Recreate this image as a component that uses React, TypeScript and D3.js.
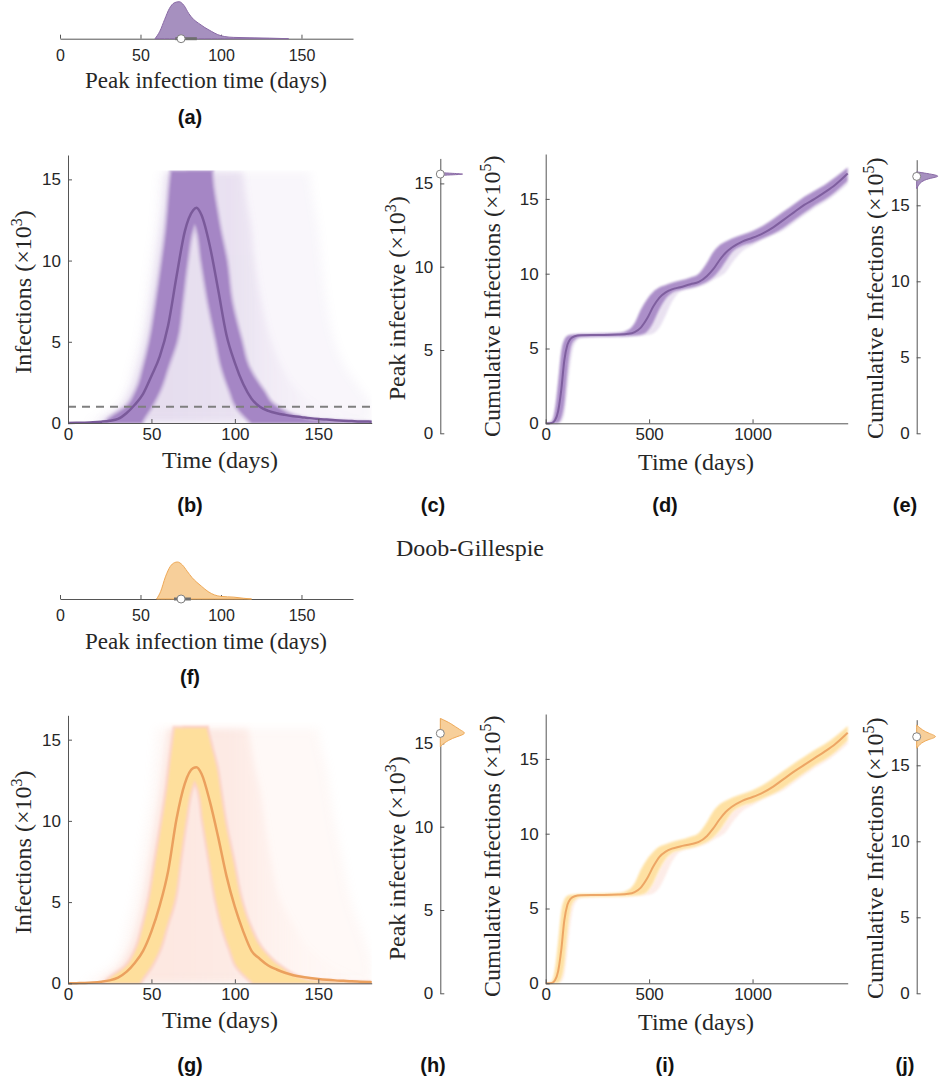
import * as d3 from "d3";
import React, { useEffect, useRef } from "react";

const W = 941, H = 1086;

// ---------- peak infection time densities (a), (f)
const peakDaysA = [59, 62, 65, 68, 71, 74, 77, 80, 83, 86, 90, 94, 98, 102, 108, 118, 130, 142];
const peakDensA = [0, 0.2, 0.52, 0.82, 0.97, 1.0, 0.9, 0.68, 0.52, 0.42, 0.3, 0.2, 0.11, 0.06, 0.035, 0.025, 0.015, 0];
const peakBoxA = [71.6, 75.2, 85]; // q1, median, q3
const peakDaysF = [60, 62.5, 65.5, 68.5, 71, 73, 76, 79, 82, 85, 88, 92, 96, 100, 108, 114, 119];
const peakDensF = [0, 0.2, 0.6, 0.88, 0.98, 1.0, 0.92, 0.75, 0.58, 0.45, 0.34, 0.2, 0.11, 0.07, 0.05, 0.02, 0];
const peakBoxF = [70.8, 75.2, 81.3];
const timeTicks = [0, 50, 100, 150];

// ---------- infections over time (b), (g)  (x10^3)
const infDays = [0, 5, 10, 15, 20, 25, 30, 35, 40, 45, 50, 55, 60, 65, 70, 75, 77, 80, 85, 90, 95, 100, 105, 110, 115, 120, 125, 130, 135, 140, 145, 150, 155, 160, 165, 170, 175, 180, 182];
const medianInfB = [0, 0.01, 0.02, 0.04, 0.08, 0.14, 0.25, 0.6, 1.12, 1.8, 2.9, 4.1, 6.0, 9.0, 11.8, 13.1, 13.25, 12.8, 10.9, 8.2, 5.4, 3.7, 2.4, 1.5, 1.0, 0.75, 0.6, 0.5, 0.42, 0.36, 0.3, 0.25, 0.21, 0.17, 0.14, 0.12, 0.1, 0.09, 0.08];
const medianInfG = [0, 0.01, 0.02, 0.05, 0.1, 0.18, 0.35, 0.7, 1.25, 2.0, 3.2, 4.8, 6.9, 10.1, 12.3, 13.25, 13.3, 12.9, 11.2, 9.0, 6.6, 4.7, 3.2, 2.0, 1.5, 1.1, 0.85, 0.65, 0.5, 0.4, 0.33, 0.27, 0.22, 0.18, 0.15, 0.12, 0.1, 0.08, 0.07];
const infTicks = [0, 5, 10, 15];
const thresholdB = 1;

// trajectory envelopes, read as time ranges at each infection level
const levelsB = [0, 0.2, 1, 2, 3.5, 5, 7.5, 10, 12, 13.2, 14.5, 15.5];
const riseLoB = [22, 24, 35, 41, 45.5, 49, 53, 56.5, 59, 60, 61, 62];
const riseHiB = [44, 45, 50, 55, 60, 65, 68.5, 71.5, 75, 80, 84, 86];
const fallLoB = [110, 108, 101, 97, 92, 89, 84, 80, 77, 72, 72, 72];
const fallHiB = [182, 145, 125, 117, 108, 104, 98, 95, 91, 89, 87, 86];
const midLoB = [18, 20, 31, 37, 42, 45.5, 49.5, 53, 55.5, 57, 58, 59];
const midHiB = [182, 178, 152, 138, 128, 122, 116, 112, 110, 108, 106, 105];
const faintLoB = [10, 14, 28, 34, 38, 42, 46, 49, 52, 53, 54, 55];
const faintHiB = [182, 182, 182, 176, 166, 160, 155, 152, 150, 148, 146, 145];

const levelsG = [0, 0.2, 1, 2, 3.5, 5, 7.5, 10, 12, 13.3, 14.5, 15.7];
const riseLoG = [22, 24, 34.5, 40.5, 45, 48.5, 52.5, 56.5, 59.5, 61, 62.5, 64];
const riseHiG = [43, 44, 49.5, 54.5, 59, 63.5, 67, 70.5, 74, 79, 82, 83];
const fallLoG = [111, 109, 101.5, 97.5, 92.5, 89, 85, 81, 78, 72, 70, 70];
const fallHiG = [182, 143, 127.5, 117, 109, 104, 99, 94, 91, 89, 86, 83];
const midLoG = [17, 20, 30, 36, 41, 44.5, 48.5, 52.5, 55.5, 57, 58.5, 60];
const midHiG = [182, 180, 160, 146, 136, 128, 122, 118, 115, 112, 110, 108];
const faintLoG = [8, 12, 25, 31, 35, 39, 43, 47, 50, 51, 52, 53];
const faintHiG = [182, 182, 182, 180, 175, 170, 165, 160, 157, 155, 152, 150];

// ---------- peak infective (c), (h)  (x10^3)
const peakInfLevelsC = [15.48, 15.52, 15.56, 15.6, 15.65];
const peakInfDensC = [0, 0.5, 1, 0.45, 0];
const peakInfMedC = 15.56;
const peakInfLevelsH = [16.5, 16.2, 15.8, 15.6, 15.4, 15.2, 14.9, 14.8];
const peakInfDensH = [0, 0.4, 0.73, 1.0, 0.6, 0.3, 0.05, 0];
const peakInfMedH = 15.6;

// ---------- cumulative infections (d), (i)  (x10^5)
const cumDays = [0, 30, 45, 60, 75, 90, 105, 120, 140, 170, 250, 350, 400, 430, 460, 490, 520, 550, 580, 610, 650, 700, 740, 780, 810, 840, 870, 900, 950, 1000, 1050, 1100, 1150, 1200, 1250, 1300, 1350, 1400, 1460];
const cumMedD = [0, 0.02, 0.2, 0.8, 2.2, 4.2, 5.25, 5.65, 5.82, 5.88, 5.9, 5.93, 5.98, 6.1, 6.4, 7.0, 7.8, 8.4, 8.75, 8.95, 9.1, 9.3, 9.45, 9.85, 10.3, 10.9, 11.4, 11.75, 12.15, 12.4, 12.7, 13.1, 13.6, 14.1, 14.6, 15.0, 15.45, 15.95, 16.7];
const cumHiD = [0, 0.15, 1.0, 2.8, 4.8, 5.6, 5.85, 5.92, 5.95, 5.98, 6.0, 6.05, 6.25, 6.7, 7.6, 8.3, 8.8, 9.1, 9.25, 9.4, 9.55, 9.75, 10.0, 10.75, 11.45, 11.9, 12.15, 12.35, 12.6, 12.85, 13.2, 13.65, 14.15, 14.65, 15.15, 15.55, 15.95, 16.45, 17.1];
const cumLoD = [0, 0, 0, 0.02, 0.3, 1.2, 3.3, 4.9, 5.55, 5.75, 5.78, 5.8, 5.82, 5.85, 5.9, 6.1, 6.7, 7.6, 8.3, 8.7, 8.9, 9.05, 9.2, 9.45, 9.75, 10.2, 10.8, 11.4, 11.85, 12.05, 12.35, 12.65, 13.05, 13.55, 14.05, 14.55, 14.95, 15.45, 16.2];
const cumLateD = [0, 0, 0, 0, 0.1, 0.6, 2.2, 4.0, 5.3, 5.7, 5.75, 5.78, 5.8, 5.82, 5.85, 5.9, 6.0, 6.4, 7.2, 8.1, 8.8, 9.0, 9.15, 9.35, 9.6, 9.8, 10.1, 10.7, 11.5, 11.9, 12.3, 12.6, 12.9, 13.4, 13.9, 14.4, 14.8, 15.3, 16.0];
const cumMedI = [0, 0.02, 0.2, 0.8, 2.2, 4.2, 5.25, 5.65, 5.82, 5.88, 5.9, 5.93, 5.98, 6.1, 6.4, 7.0, 7.8, 8.45, 8.8, 9.0, 9.15, 9.3, 9.45, 9.85, 10.35, 10.95, 11.45, 11.8, 12.2, 12.45, 12.75, 13.15, 13.65, 14.15, 14.6, 15.05, 15.5, 16.0, 16.75];
const cumHiI = [0, 0.15, 1.0, 2.8, 4.8, 5.6, 5.85, 5.92, 5.95, 5.98, 6.0, 6.05, 6.25, 6.7, 7.6, 8.3, 8.8, 9.15, 9.3, 9.45, 9.6, 9.8, 10.05, 10.8, 11.5, 11.95, 12.2, 12.4, 12.65, 12.9, 13.25, 13.7, 14.2, 14.7, 15.15, 15.6, 16.0, 16.5, 17.2];
const cumLoI = [0, 0, 0, 0.02, 0.3, 1.2, 3.3, 4.9, 5.55, 5.75, 5.78, 5.8, 5.82, 5.85, 5.9, 6.1, 6.7, 7.6, 8.3, 8.7, 8.9, 9.05, 9.2, 9.45, 9.75, 10.2, 10.8, 11.4, 11.85, 12.05, 12.35, 12.65, 13.05, 13.55, 14.05, 14.55, 14.95, 15.45, 16.25];
const cumLateI = [0, 0, 0, 0, 0.1, 0.6, 2.2, 4.0, 5.3, 5.7, 5.75, 5.78, 5.8, 5.82, 5.85, 5.9, 6.0, 6.4, 7.2, 8.1, 8.8, 9.0, 9.15, 9.35, 9.6, 9.8, 10.1, 10.7, 11.5, 11.9, 12.3, 12.6, 12.9, 13.4, 13.9, 14.4, 14.8, 15.3, 16.0];
const cumDayTicks = [0, 500, 1000];
const cumTicks = [0, 5, 10, 15];

// ---------- final cumulative infections (e), (j)  (x10^5)
const finalLevelsE = [17.2, 17.1, 16.97, 16.88, 16.75, 16.55, 16.33, 16.1];
const finalDensE = [0, 0.45, 0.95, 1.0, 0.5, 0.2, 0.08, 0];
const finalMedE = 16.9;
const finalLevelsJ = [17.65, 17.32, 17.1, 16.88, 16.71, 16.49, 16.12];
const finalDensJ = [0, 0.25, 0.55, 1.0, 0.55, 0.2, 0];
const finalMedJ = 16.88;

const PURPLE = { band: "#a586c5", halo: "#c9b6dc", mid: "#a586c5", late: "#c9b6dc", median: "#7a5a9a", dens: "#a690bf", densEdge: "#8a6aa6", midA: 0.22, faintA: 0.07 };
const ORANGE = { band: "#fedf9c", halo: "#fbd0c4", mid: "#f7bfae", late: "#fbd0c4", median: "#eba05e", dens: "#f7cf9a", densEdge: "#efa957", midA: 0.3, faintA: 0.1 };

const SERIF = "'Liberation Serif', 'Times New Roman', serif";
const SANS = "'Liberation Sans', Arial, sans-serif";
const AXIS = "#555";
const TXT = "#262626";

export default function App() {
  const svgRef = useRef<SVGSVGElement | null>(null);

  useEffect(() => {
    const svg = d3.select(svgRef.current);
    svg.selectAll("*").remove();
    const defs = svg.append("defs");
    const blur = (id: string, s: number) =>
      defs.append("filter").attr("id", id).attr("x", "-10%").attr("y", "-10%").attr("width", "120%").attr("height", "120%")
        .append("feGaussianBlur").attr("stdDeviation", s);
    blur("soft", 0.9);
    blur("softer", 3);
    blur("softest", 5);

    const styleAxis = (ax: any, size: number) => {
      ax.attr("font-size", size).attr("font-family", SANS);
      ax.select(".domain").attr("stroke", AXIS);
      ax.selectAll(".tick line").attr("stroke", AXIS);
      ax.selectAll("text").attr("fill", TXT);
    };
    const xAxis = (x: any, yPx: number, ticks: number[], pad: number, size = 17) => {
      const ax = svg.append("g").attr("transform", `translate(0,${yPx})`)
        .call(d3.axisBottom(x).tickValues(ticks).tickFormat(d3.format("d") as any)
          .tickSizeInner(-4).tickSizeOuter(0).tickPadding(pad) as any);
      styleAxis(ax, size);
    };
    const yAxis = (y: any, xPx: number, ticks: number[]) => {
      const ax = svg.append("g").attr("transform", `translate(${xPx},0)`)
        .call(d3.axisLeft(y).tickValues(ticks).tickSizeInner(-4).tickSizeOuter(0).tickPadding(7) as any);
      styleAxis(ax, 17);
    };
    const label = (txt: string, x: number, y: number, size = 24) =>
      svg.append("text").attr("x", x).attr("y", y).attr("text-anchor", "middle")
        .attr("font-family", SERIF).attr("font-size", size).attr("fill", TXT).text(txt);
    const vLabel = (txt: string, exp: string, x: number, y: number) => {
      const t = svg.append("text").attr("transform", `translate(${x},${y}) rotate(-90)`).attr("text-anchor", "middle")
        .attr("font-family", SERIF).attr("font-size", 24).attr("fill", TXT);
      t.append("tspan").text(txt + " (×10");
      t.append("tspan").attr("font-size", 16).attr("dy", -9).text(exp);
      t.append("tspan").attr("dy", 9).text(")");
    };
    const tag = (txt: string, x: number, y: number) =>
      svg.append("text").attr("x", x).attr("y", y).attr("text-anchor", "middle")
        .attr("font-family", SANS).attr("font-weight", "bold").attr("font-size", 20).attr("fill", "#111").text(txt);
    const dot = (cx: number, cy: number) =>
      svg.append("circle").attr("cx", cx).attr("cy", cy).attr("r", 4).attr("fill", "#fff").attr("stroke", "#808080").attr("stroke-width", 1);

    // ---- peak time density panels
    const peakTimePanel = (base: number, days: number[], dens: number[], box: number[], pal: any) => {
      const x = d3.scaleLinear().domain([0, 182]).range([60, 353]);
      const h = d3.scaleLinear().domain([0, 1]).range([0, 37]);
      xAxis(x, base, timeTicks, 10.5, 16);
      const area = d3.area<number>().x((_, i) => x(days[i])).y0(base).y1((d) => base - h(d)).curve(d3.curveMonotoneX);
      svg.append("path").attr("d", area(dens)!).attr("fill", pal.dens).attr("stroke", pal.densEdge).attr("stroke-width", 1);
      svg.append("line").attr("x1", x(box[0])).attr("x2", x(box[2])).attr("y1", base).attr("y2", base)
        .attr("stroke", "#6e6e6e").attr("stroke-width", 3);
      dot(x(box[1]), base);
      label("Peak infection time (days)", 206, base + 49.5, 23);
    };
    peakTimePanel(38.7, peakDaysA, peakDensA, peakBoxA, PURPLE);
    peakTimePanel(599, peakDaysF, peakDensF, peakBoxF, ORANGE);

    // ---- infections over time panels
    const infPanel = (id: string, y0: number, median: number[], lv: number[], env: any, pal: any, capV: number, threshold?: number) => {
      const x = d3.scaleLinear().domain([0, 182]).range([68, 371.7]);
      const y = d3.scaleLinear().domain([0, 16.5]).range([y0, y0 - 268]);
      const hArea = (lo: number[], hi: number[]) => d3.area<number>().y((v) => y(v))
        .x0((_, i) => x(lo[i])).x1((_, i) => x(hi[i])).curve(d3.curveMonotoneY);

      defs.append("clipPath").attr("id", `clip-${id}`).append("rect")
        .attr("x", x(0)).attr("y", y(capV)).attr("width", x(182) - x(0)).attr("height", y(0) - y(capV) + 1);
      const grad = defs.append("linearGradient").attr("id", `grad-${id}`).attr("gradientUnits", "userSpaceOnUse")
        .attr("x1", x(60)).attr("x2", x(170)).attr("y1", 0).attr("y2", 0);
      [[0, 1], [0.35, 0.85], [0.55, 0.45], [0.75, 0.15], [1, 0.03]].forEach(([o, a]) =>
        grad.append("stop").attr("offset", o).attr("stop-color", pal.mid).attr("stop-opacity", a * pal.midA));

      const g = svg.append("g").attr("clip-path", `url(#clip-${id})`);
      g.append("path").attr("d", hArea(env.faintLo, env.faintHi)(lv)!).attr("fill", pal.mid).attr("opacity", pal.faintA)
        .attr("filter", "url(#softest)");
      g.append("path").attr("d", hArea(env.midLo, env.midHi)(lv)!).attr("fill", `url(#grad-${id})`).attr("filter", "url(#softer)");
      const bands = g.append("g").attr("filter", "url(#soft)");
      [[env.riseLo, env.riseHi], [env.fallLo, env.fallHi]].forEach(([lo, hi]) => {
        bands.append("path").attr("d", hArea(lo, hi)(lv)!).attr("fill", "none").attr("stroke", pal.halo)
          .attr("stroke-width", 5).attr("opacity", 0.8);
      });
      [[env.riseLo, env.riseHi], [env.fallLo, env.fallHi]].forEach(([lo, hi]) => {
        bands.append("path").attr("d", hArea(lo, hi)(lv)!).attr("fill", pal.band);
      });

      if (threshold !== undefined) {
        svg.append("line").attr("x1", x(0)).attr("x2", x(182)).attr("y1", y(threshold)).attr("y2", y(threshold))
          .attr("stroke", "#7f7f7f").attr("stroke-width", 2).attr("stroke-dasharray", "8,6");
      }
      const line = d3.line<number>().x((_, i) => x(infDays[i])).y((d) => y(d)).curve(d3.curveMonotoneX);
      svg.append("path").attr("d", line(median)!).attr("fill", "none").attr("stroke", pal.median).attr("stroke-width", 2.5);

      xAxis(x, y0, timeTicks, 5);
      yAxis(y, 68, infTicks);
      label("Time (days)", 220, y0 + 45);
      vLabel("Infections", "3", 31, y0 - 131);
    };
    infPanel("b", 423, medianInfB, levelsB,
      { riseLo: riseLoB, riseHi: riseHiB, fallLo: fallLoB, fallHi: fallHiB, midLo: midLoB, midHi: midHiB, faintLo: faintLoB, faintHi: faintHiB },
      PURPLE, 15.55, thresholdB);
    infPanel("g", 983.3, medianInfG, levelsG,
      { riseLo: riseLoG, riseHi: riseHiG, fallLo: fallLoG, fallHi: fallHiG, midLo: midLoG, midHi: midHiG, faintLo: faintLoG, faintHi: faintHiG },
      ORANGE, 16.1);

    // ---- vertical violins
    const violin = (axisX: number, y: any, levels: number[], dens: number[], widthPx: number, med: number, pal: any) => {
      const w = d3.scaleLinear().domain([0, 1]).range([0, widthPx]);
      const area = d3.area<number>().y((_, i) => y(levels[i])).x0(axisX).x1((d) => axisX + w(d)).curve(d3.curveBasis);
      svg.append("path").attr("d", area(dens)!).attr("fill", pal.dens).attr("stroke", pal.densEdge).attr("stroke-width", 1);
      dot(axisX, y(med));
    };
    const peakPanel = (y0: number, levels: number[], dens: number[], med: number, pal: any) => {
      const y = d3.scaleLinear().domain([0, 16.5]).range([y0, y0 - 16.5 * 16.66]);
      yAxis(y, 440.3, infTicks);
      violin(440.3, y, levels, dens, 27, med, pal);
      vLabel("Peak infective", "3", 405, y0 - 135);
    };
    peakPanel(433.3, peakInfLevelsC, peakInfDensC, peakInfMedC, PURPLE);
    peakPanel(993.3, peakInfLevelsH, peakInfDensH, peakInfMedH, ORANGE);

    // ---- cumulative panels
    const cumPanel = (y0: number, med: number[], hi: number[], lo: number[], late: number[], pal: any) => {
      const x = d3.scaleLinear().domain([0, 1460]).range([545.7, 847.7]);
      const y = d3.scaleLinear().domain([0, 18]).range([y0, y0 - 18 * 14.96]);
      const vArea = (a: number[], b: number[]) => d3.area<number>().x((_, i) => x(cumDays[i]))
        .y0((_, i) => y(a[i])).y1((_, i) => y(b[i])).curve(d3.curveMonotoneX);
      svg.append("path").attr("d", vArea(late, lo)(cumDays)!).attr("fill", pal.late).attr("opacity", 0.4).attr("filter", "url(#soft)");
      svg.append("path").attr("d", vArea(lo, hi)(cumDays)!).attr("fill", pal.band).attr("opacity", 0.92).attr("filter", "url(#soft)");
      const line = d3.line<number>().x((_, i) => x(cumDays[i])).y((d) => y(d)).curve(d3.curveMonotoneX);
      svg.append("path").attr("d", line(med)!).attr("fill", "none").attr("stroke", pal.median).attr("stroke-width", 2).attr("opacity", 0.9);
      xAxis(x, y0, cumDayTicks, 5);
      yAxis(y, 545.7, cumTicks);
      label("Time (days)", 696, y0 + 47);
      vLabel("Cumulative Infections", "5", 500, y0 - 127);
    };
    cumPanel(423.3, cumMedD, cumHiD, cumLoD, cumLateD, PURPLE);
    cumPanel(983.3, cumMedI, cumHiI, cumLoI, cumLateI, ORANGE);

    const finalPanel = (y0: number, levels: number[], dens: number[], med: number, pal: any) => {
      const y = d3.scaleLinear().domain([0, 18]).range([y0, y0 - 18 * 15.2]);
      yAxis(y, 916.7, cumTicks);
      violin(916.7, y, levels, dens, 22, med, pal);
      vLabel("Cumulative Infections", "5", 883, y0 - 135);
    };
    finalPanel(433.3, finalLevelsE, finalDensE, finalMedE, PURPLE);
    finalPanel(993.3, finalLevelsJ, finalDensJ, finalMedJ, ORANGE);

    // ---- panel tags and title
    tag("(a)", 190, 124);
    [["(b)", 190], ["(c)", 433], ["(d)", 665], ["(e)", 905]].forEach(([t, x]) => tag(t as string, x as number, 512));
    tag("(f)", 190, 684);
    [["(g)", 190], ["(h)", 433], ["(i)", 665], ["(j)", 905]].forEach(([t, x]) => tag(t as string, x as number, 1072));
    label("Doob-Gillespie", 470, 556);
  }, []);

  return (
    <svg ref={svgRef} width={W} height={H}
      style={{ position: "absolute", left: 0, top: 0, background: "#fff" }} />
  );
}
